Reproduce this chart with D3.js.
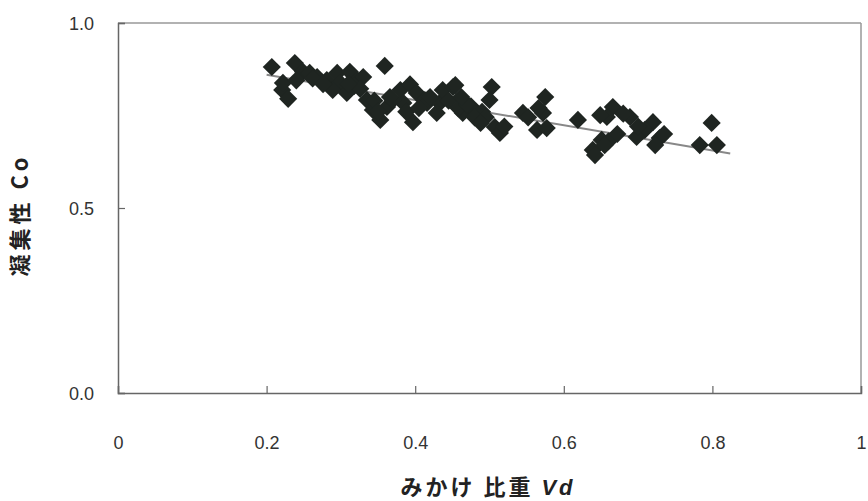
<!DOCTYPE html>
<html>
<head>
<meta charset="utf-8">
<script src="https://cdn.jsdelivr.net/npm/d3@7"></script>
<style>
  body { margin: 0; background: #fff; }
  svg { display: block; }
  .tick text { font-family: "Liberation Sans Narrow", "Arial Narrow", "Liberation Sans", sans-serif; font-size: 18px; fill: #333; }
</style>
</head>
<body>
<svg id="chart" width="868" height="501"></svg>
<script>
// values
let vd = [0.207, 0.238, 0.359, 0.221, 0.229, 0.222, 0.249, 0.258, 0.268, 0.281,
  0.295, 0.299, 0.312, 0.322, 0.330, 0.289, 0.308, 0.335, 0.343, 0.353,
  0.362, 0.380, 0.393, 0.402, 0.397, 0.384, 0.370, 0.413, 0.416, 0.433,
  0.437, 0.451, 0.454, 0.429, 0.464, 0.475, 0.490, 0.503, 0.500, 0.507,
  0.514, 0.480, 0.545, 0.572, 0.575, 0.564, 0.577, 0.619, 0.651, 0.639,
  0.666, 0.658, 0.689, 0.649, 0.642, 0.720, 0.709, 0.729, 0.723, 0.698,
  0.799, 0.783, 0.806, 0.240, 0.262, 0.276, 0.318, 0.345, 0.350, 0.366,
  0.420, 0.445, 0.458, 0.470, 0.495, 0.520, 0.552, 0.566, 0.660, 0.672,
  0.680, 0.735, 0.326, 0.310, 0.388, 0.405, 0.462, 0.488, 0.700, 0.655];
let co = [0.881, 0.892, 0.884, 0.819, 0.795, 0.838, 0.868, 0.865, 0.854, 0.846,
  0.865, 0.838, 0.868, 0.846, 0.854, 0.819, 0.811, 0.792, 0.765, 0.738,
  0.773, 0.819, 0.834, 0.811, 0.732, 0.784, 0.792, 0.792, 0.784, 0.784,
  0.819, 0.827, 0.832, 0.757, 0.757, 0.775, 0.760, 0.827, 0.792, 0.719,
  0.703, 0.745, 0.757, 0.757, 0.800, 0.711, 0.716, 0.738, 0.684, 0.657,
  0.773, 0.746, 0.746, 0.751, 0.643, 0.732, 0.711, 0.689, 0.670, 0.692,
  0.730, 0.670, 0.670, 0.845, 0.850, 0.835, 0.830, 0.790, 0.760, 0.800,
  0.800, 0.790, 0.770, 0.780, 0.745, 0.720, 0.745, 0.770, 0.680, 0.700,
  0.755, 0.700, 0.822, 0.835, 0.760, 0.770, 0.800, 0.730, 0.720, 0.670];
let trendX = [0.2, 0.824];
let trendY = [0.86, 0.647];
let xTicks = [0, 0.2, 0.4, 0.6, 0.8, 1];
let yTicks = [0, 0.5, 1];

let svg = d3.select('#chart');
let mLeft = 118, mRight = 861, mTop = 23, mBottom = 393;

let x = d3.scaleLinear().domain([0, 1]).range([mLeft, mRight]);
let y = d3.scaleLinear().domain([0, 1]).range([mBottom, mTop]);

// frame (top and right lighter)
svg.append('line').attr('x1', mLeft).attr('x2', mRight).attr('y1', mTop).attr('y2', mTop)
    .attr('stroke', '#999').attr('stroke-width', 1.5);
svg.append('line').attr('x1', mRight).attr('x2', mRight).attr('y1', mTop).attr('y2', mBottom)
    .attr('stroke', '#999').attr('stroke-width', 1.5);

// x axis
let xAxis = svg.append('g')
    .attr('transform', 'translate(0,' + mBottom + ')')
    .call(d3.axisBottom(x).tickValues(xTicks).tickSize(-7).tickPadding(0)
        .tickFormat(d => d == 0 ? '0' : d == 1 ? '1' : d3.format('.1f')(d)));
xAxis.select('.domain').attr('stroke', '#666').attr('stroke-width', 1.5);
xAxis.selectAll('.tick line').attr('stroke', '#666').attr('stroke-width', 1.2);
xAxis.selectAll('.tick text').attr('y', 56).attr('dy', 0);

// y axis
let yAxis = svg.append('g')
    .attr('transform', 'translate(' + mLeft + ',0)')
    .call(d3.axisLeft(y).tickValues(yTicks).tickSize(-7).tickPadding(24)
        .tickFormat(d3.format('.1f')));
yAxis.select('.domain').attr('stroke', '#666').attr('stroke-width', 1.5);
yAxis.selectAll('.tick line').attr('stroke', '#666').attr('stroke-width', 1.2);
yAxis.selectAll('.tick text').attr('dy', '0.35em');

// trend line
svg.append('path')
    .datum(d3.zip(trendX, trendY))
    .attr('d', d3.line().x(d => x(d[0])).y(d => y(d[1])))
    .attr('stroke', '#888').attr('stroke-width', 2).attr('fill', 'none');

// points
let diamond = d3.symbol().type(d3.symbolSquare).size(165);
svg.append('g')
    .selectAll('path')
    .data(d3.zip(vd, co))
    .join('path')
    .attr('transform', d => 'translate(' + x(d[0]) + ',' + y(d[1]) + ') rotate(45)')
    .attr('d', diamond)
    .attr('fill', '#1f2521');

// axis titles
svg.append('text')
    .attr('transform', 'translate(28,215) rotate(-90)')
    .attr('text-anchor', 'middle')
    .attr('font-family', '"Noto Sans CJK JP", sans-serif')
    .attr('font-weight', 'bold')
    .attr('font-size', '22px')
    .attr('letter-spacing', '4px')
    .attr('fill', '#222')
    .text('凝集性 Co');

let xt = svg.append('text')
    .attr('x', 488).attr('y', 495)
    .attr('text-anchor', 'middle')
    .attr('font-family', '"Noto Sans CJK JP", sans-serif')
    .attr('font-weight', 'bold')
    .attr('font-size', '22px')
    .attr('letter-spacing', '3px')
    .attr('fill', '#222');
xt.append('tspan').text('みかけ 比重 ');
xt.append('tspan').attr('font-style', 'italic').attr('font-family', '"Liberation Sans", sans-serif')
    .attr('font-weight', 'bold').text('Vd');
</script>
</body>
</html>
